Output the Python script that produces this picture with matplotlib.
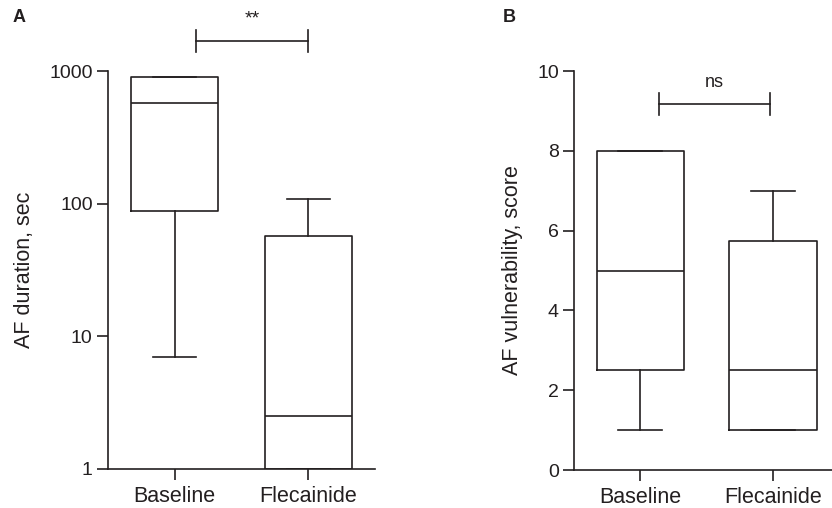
import matplotlib
matplotlib.use("Agg")
import matplotlib.pyplot as plt

plt.rcParams['font.family'] = ['Liberation Sans', 'DejaVu Sans']

groups = ["Baseline", "Flecainide"]

# panel A: AF duration (sec), log scale
dur_min = [7, 1]
dur_q1 = [88, 1]
dur_med = [570, 2.5]
dur_q3 = [900, 57]
dur_max = [900, 108]

# panel B: AF vulnerability score
vul_min = [1, 1]
vul_q1 = [2.5, 1]
vul_med = [5, 2.5]
vul_q3 = [8, 5.75]
vul_max = [8, 7]

lw = 1.2
col = "#231f20"


def stats(lo, q1, med, q3, hi):
    return [dict(whislo=lo[i], q1=q1[i], med=med[i], q3=q3[i], whishi=hi[i], label=groups[i])
            for i in range(len(groups))]


def style(ax):
    ax.spines['top'].set_visible(False)
    ax.spines['right'].set_visible(False)
    for s in ['left', 'bottom']:
        ax.spines[s].set_linewidth(lw)
        ax.spines[s].set_color(col)
    ax.tick_params(length=8, width=lw, color=col, labelsize=14, pad=3, labelcolor=col)
    ax.tick_params(axis='x', labelsize=15.5, pad=4)
    ax.set_xlim(0.5, 2.5)


def bracket(ax, x0, x1, y, lo, hi, text, ty, size=13):
    ax.plot([x0, x1], [y, y], color=col, lw=lw, clip_on=False)
    for x in (x0, x1):
        ax.plot([x, x], [lo, hi], color=col, lw=lw, clip_on=False)
    ax.text((x0 + x1) / 2, ty, text, ha='center', va='center', fontsize=size, color=col)


fig = plt.figure(figsize=(8.32, 5.08), dpi=100)

props = dict(color=col, linewidth=lw)

axA = fig.add_axes([0.1298, 0.0768, 0.3209, 0.7834])
axA.bxp(stats(dur_min, dur_q1, dur_med, dur_q3, dur_max), positions=[1, 2], widths=0.65,
        capwidths=0.32, showfliers=False, boxprops=props, medianprops=props,
        whiskerprops=props, capprops=props)
axA.set_yscale('log')
axA.set_ylim(1, 1000)
axA.set_yticks([1, 10, 100, 1000])
axA.set_yticklabels(["1", "10", "100", "1000"])
axA.minorticks_off()
style(axA)
axA.set_ylabel("AF duration, sec", fontsize=15.5, color=col, labelpad=10)
bracket(axA, 1.16, 2.0, 1683, 1390, 2037, "**", 2450, size=14)
fig.text(0.0145, 0.965, "A", fontsize=13, fontweight='bold', va='center', color=col)

axB = fig.add_axes([0.690, 0.0748, 0.3185, 0.7854])
axB.bxp(stats(vul_min, vul_q1, vul_med, vul_q3, vul_max), positions=[1, 2], widths=0.66,
        capwidths=0.33, showfliers=False, boxprops=props, medianprops=props,
        whiskerprops=props, capprops=props)
axB.set_ylim(0, 10)
axB.set_yticks([0, 2, 4, 6, 8, 10])
style(axB)
axB.set_ylabel("AF vulnerability, score", fontsize=15.5, color=col, labelpad=10)
bracket(axB, 1.14, 1.98, 9.17, 8.9, 9.44, "ns", 9.72)
fig.text(0.6045, 0.965, "B", fontsize=13, fontweight='bold', va='center', color=col)

fig.savefig("out.png", dpi=100)
